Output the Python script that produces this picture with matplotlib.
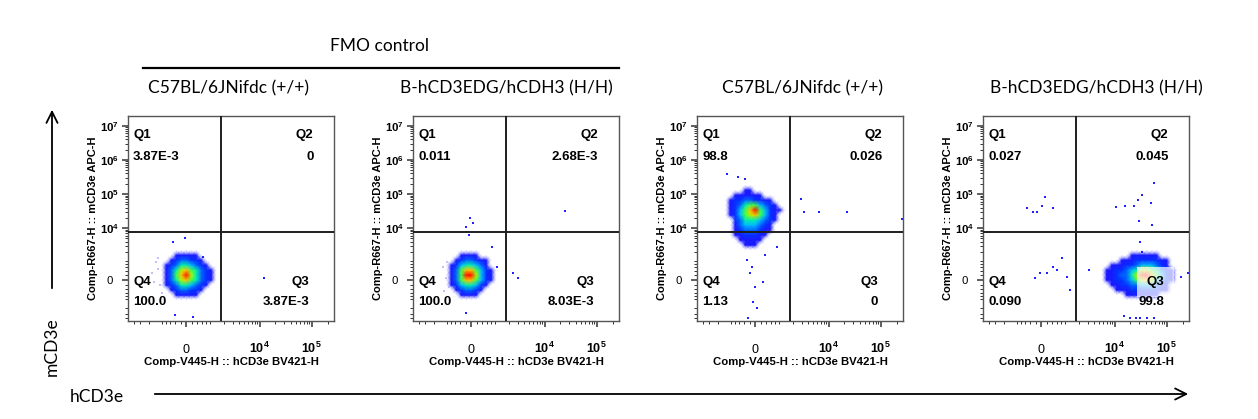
import numpy as np
import matplotlib.pyplot as plt
from matplotlib.ticker import NullFormatter
from matplotlib.colors import LinearSegmentedColormap

plt.rcParams["font.family"] = "Liberation Sans"
plt.rcParams["mathtext.fontset"] = "custom"
plt.rcParams["mathtext.rm"] = "Liberation Sans:bold"
plt.rcParams["mathtext.bf"] = "Liberation Sans:bold"
plt.rcParams["mathtext.it"] = "Liberation Sans:bold"
plt.rcParams["mathtext.default"] = "rm"

# -----------------------------
# Data
# -----------------------------
titles = ["C57BL/6JNifdc (+/+)", "B-hCD3EDG/hCDH3 (H/H)",
          "C57BL/6JNifdc (+/+)", "B-hCD3EDG/hCDH3 (H/H)"]

q1_vals = ["3.87E-3", "0.011", "98.8", "0.027"]
q2_vals = ["0", "2.68E-3", "0.026", "0.045"]
q3_vals = ["3.87E-3", "8.03E-3", "0", "99.8"]
q4_vals = ["100.0", "100.0", "1.13", "0.090"]

gate_x = 1785
gate_y = 7700

x_major = [0, 1e4, 1e5]
x_major_labels = ["0", "$10^{4}$", "$10^{5}$"]
y_major = [0, 1e4, 1e5, 1e6, 1e7]
y_major_labels = ["0", "$10^{4}$", "$10^{5}$", "$10^{6}$", "$10^{7}$"]

# density grids of the main populations (levels)
neg_grid_x = [-1071, -799, -566, -363, -177, 0, 177, 363, 566, 799, 1071, 1390]
neg_grid_y = [-1566, -1083, -718, -437, -207, 0, 207, 437, 718, 1083, 1566, 2238]

blob1 = [
    [0, 0, 0, 0, 0, 0, 0, 0, 0, 0, 0, 0],
    [0, 0, 0, 0, 0, 0, 0, 0, 0, 0, 0, 0],
    [0, 0, 0, 1, 1, 1, 1, 1, 0, 0, 0, 0],
    [0, 0, 1, 2, 3, 3, 2, 2, 1, 0, 0, 0],
    [0, 1, 2, 3, 5, 5, 4, 3, 2, 1, 0, 0],
    [0, 1, 3, 5, 7, 8, 6, 5, 3, 2, 1, 0],
    [0, 1, 3, 6, 8, 9, 7, 5, 3, 2, 1, 0],
    [0, 1, 3, 5, 7, 8, 6, 5, 3, 2, 1, 0],
    [0, 1, 2, 3, 5, 5, 4, 3, 2, 1, 0, 0],
    [0, 0, 1, 2, 3, 3, 2, 2, 1, 0, 0, 0],
    [0, 0, 0, 1, 1, 1, 1, 1, 0, 0, 0, 0],
    [0, 0, 0, 0, 0, 0, 0, 0, 0, 0, 0, 0],
]

blob2 = [
    [0, 0, 0, 0, 0, 0, 0, 0, 0, 0, 0, 0],
    [0, 0, 0, 0, 0, 0, 0, 0, 0, 0, 0, 0],
    [0, 0, 0, 1, 1, 1, 1, 0, 0, 0, 0, 0],
    [0, 0, 1, 2, 3, 3, 2, 1, 0, 0, 0, 0],
    [0, 1, 2, 4, 5, 5, 4, 2, 1, 0, 0, 0],
    [0, 1, 3, 6, 8, 8, 6, 4, 2, 1, 0, 0],
    [0, 1, 3, 6, 9, 9, 7, 4, 2, 1, 0, 0],
    [0, 1, 3, 6, 8, 8, 6, 4, 2, 1, 0, 0],
    [0, 1, 2, 4, 5, 5, 4, 3, 1, 0, 0, 0],
    [0, 0, 1, 2, 3, 3, 2, 1, 1, 0, 0, 0],
    [0, 0, 0, 1, 1, 1, 1, 0, 0, 0, 0, 0],
    [0, 0, 0, 0, 0, 0, 0, 0, 0, 0, 0, 0],
]

mcd3_grid_x = [-1390, -1071, -799, -566, -363, -177, 0, 177, 363, 566, 799, 1071, 1390]
mcd3_grid_y = [1566, 2238, 3162, 4458, 6264, 8784, 12318, 17280, 24240, 33960,
               47640, 66780, 93600, 131400, 184000, 258000]

blob3 = [
    [0, 0, 0, 0, 0, 0, 0, 0, 0, 0, 0, 0, 0],
    [0, 0, 0, 0, 0, 0, 0, 0, 0, 0, 0, 0, 0],
    [0, 0, 0, 0, 1, 1, 1, 0, 0, 0, 0, 0, 0],
    [0, 0, 0, 1, 1, 1, 1, 1, 0, 0, 0, 0, 0],
    [0, 0, 1, 1, 2, 2, 2, 1, 1, 0, 0, 0, 0],
    [0, 0, 1, 2, 3, 3, 3, 2, 1, 1, 0, 0, 0],
    [0, 0, 1, 3, 4, 4, 4, 3, 2, 1, 0, 0, 0],
    [0, 0, 2, 3, 5, 5, 5, 4, 3, 2, 1, 0, 0],
    [0, 1, 2, 4, 6, 7, 8, 6, 4, 2, 1, 0, 0],
    [0, 1, 2, 4, 6, 8, 9, 6, 4, 2, 1, 1, 0],
    [0, 1, 2, 3, 5, 6, 6, 4, 3, 2, 1, 0, 0],
    [0, 1, 2, 2, 3, 3, 2, 2, 1, 1, 0, 0, 0],
    [0, 0, 1, 1, 1, 1, 1, 1, 0, 0, 0, 0, 0],
    [0, 0, 0, 0, 1, 1, 0, 0, 0, 0, 0, 0, 0],
    [0, 0, 0, 0, 0, 0, 0, 0, 0, 0, 0, 0, 0],
    [0, 0, 0, 0, 0, 0, 0, 0, 0, 0, 0, 0, 0],
]

hcd3_grid_x = [4496, 5630, 7034, 8780, 10975, 13700, 17073, 21330, 26605,
               33230, 41480, 51780, 64550, 80570, 100550, 125500, 156540]
hcd3_grid_y = [-1083, -718, -437, -207, 0, 207, 437, 718, 1083, 1566, 2238]

blob4 = [
    [0, 0, 0, 0, 0, 0, 0, 0, 0, 0, 0, 0, 0, 0, 0, 0, 0],
    [0, 0, 0, 0, 0, 0, 1, 1, 1, 1, 1, 1, 1, 0, 0, 0, 0],
    [0, 0, 0, 0, 1, 1, 1, 2, 2, 2, 2, 2, 2, 1, 1, 0, 0],
    [0, 0, 0, 1, 1, 2, 2, 3, 3, 4, 4, 4, 3, 2, 1, 0, 0],
    [0, 0, 1, 1, 2, 2, 3, 4, 6, 7, 8, 7, 5, 3, 2, 1, 0],
    [0, 0, 1, 1, 2, 3, 3, 5, 7, 9, 9, 8, 6, 4, 2, 1, 0],
    [0, 0, 1, 1, 2, 2, 3, 4, 5, 7, 7, 6, 5, 3, 2, 1, 0],
    [0, 0, 0, 1, 1, 1, 2, 2, 3, 4, 4, 4, 3, 2, 1, 0, 0],
    [0, 0, 0, 0, 0, 1, 1, 1, 2, 2, 2, 2, 2, 1, 1, 0, 0],
    [0, 0, 0, 0, 0, 0, 0, 1, 1, 1, 1, 1, 1, 0, 0, 0, 0],
    [0, 0, 0, 0, 0, 0, 0, 0, 0, 0, 0, 0, 0, 0, 0, 0, 0],
]

# single scattered events
ev1_x = [-35, -480, 250, -400, 650, 1020, 12000]
ev1_y = [5110, 3900, -3630, -3160, 1400, 290, 80]
ev2_x = [-35, 70, -177, -70, 850, 24400, 2380, 3000, -177, 1127]
ev2_y = [19800, 14100, 10750, 6260, 2760, 31700, 290, 80, -2760, 600]
ev3_x = [-1250, -655, -363, 2855, 3280, 6430, 22300, 255000, 900, 363,
         -177, 0, 290, -70, 70, -250, -290, -105]
ev3_y = [386000, 316000, 275000, 71300, 29700, 29700, 29700, 18500, 2760, 1566,
         290, -290, -80, -1260, -1940, -3890, 1083, 600]
ev4_x = [-525, -290, -140, 35, 140, 441, 10500, 15600, 23300, 27800, 33230,
         56500, 49500, 29100, 51780, 850, 441, 212, -212, 610, 1127, 1310, -35,
         3125, 255000, 187000, 15000, 31000, 56500, 20000, 26000, 42000, 31000, 33000]
ev4_y = [38800, 29700, 29700, 44500, 81800, 38800, 41500, 44500, 44500, 66800, 93600,
         210000, 54400, 16200, 12300, 1260, 600, 290, 80, 437, 120, -437, 290,
         437, 290, 120, -3390, -3890, -3890, -3900, -3900, -3900, 3900, 1940]

# faint low-intensity haze left of the negative populations
haze1_x = [-1700, -1400, -1130, -1300, -1000, -1550, -1250]
haze1_y = [300, 900, -200, 1300, -600, -100, 500]
haze2_x = [-1300, -1100, -900, -1200, -1000]
haze2_y = [600, 100, -300, -500, 900]

blob_x = [neg_grid_x, neg_grid_x, mcd3_grid_x, hcd3_grid_x]
blob_y = [neg_grid_y, neg_grid_y, mcd3_grid_y, hcd3_grid_y]
blob_z = [blob1, blob2, blob3, blob4]
events_x = [ev1_x, ev2_x, ev3_x, ev4_x]
events_y = [ev1_y, ev2_y, ev3_y, ev4_y]
haze_x = [haze1_x, haze2_x, [], []]
haze_y = [haze1_y, haze2_y, [], []]

# -----------------------------
# Layout (pixels)
# -----------------------------
W, H = 1258, 419
panel_left = [128, 413, 697, 983]
panel_top = 116
panel_w = 206
panel_h = 205
title_cx = [228, 506, 803, 1096]

# pseudocolor map, transparent where there are no events
flow_cmap = LinearSegmentedColormap.from_list("flow", [
    (0.00, (1, 1, 1, 0)),
    (0.05, (0.35, 0.35, 1, 0.8)),
    (0.12, (0.05, 0.05, 1, 1)),
    (0.30, (0.0, 0.3, 1, 1)),
    (0.46, (0.0, 0.78, 1, 1)),
    (0.60, (0.0, 1.0, 0.55, 1)),
    (0.74, (0.55, 1.0, 0.0, 1)),
    (0.86, (1.0, 0.92, 0.0, 1)),
    (0.94, (1.0, 0.5, 0.0, 1)),
    (1.00, (1.0, 0.05, 0.0, 1)),
])

x_minor = ([-4000, -3000, -2000, -1000, -800, -600, -400, -200, 200, 400, 600, 800]
           + [k * 1000 for k in range(1, 10)] + [k * 10000 for k in range(2, 10)] + [2e5])
y_minor = ([-4000, -3000, -2000, -1000, -800, -600, -400, -200, 200, 400, 600, 800]
           + [k * 1000 for k in range(1, 10)] + [k * 10000 for k in range(2, 10)]
           + [k * 1e5 for k in range(2, 10)] + [k * 1e6 for k in range(2, 10)])

fig = plt.figure(figsize=(W / 100, H / 100), dpi=100)

for i in range(4):
    ax = fig.add_axes([panel_left[i] / W, 1 - (panel_top + panel_h) / H,
                       panel_w / W, panel_h / H])
    ax.set_xscale("asinh", linear_width=793)
    ax.set_yscale("asinh", linear_width=600)

    if haze_x[i]:
        ax.scatter(haze_x[i], haze_y[i], s=2.5, marker="s", c="#c0c0ff",
                   linewidths=0, zorder=1)
    ax.pcolormesh(blob_x[i], blob_y[i], blob_z[i], shading="gouraud",
                  cmap=flow_cmap, vmin=0, vmax=9, zorder=1.5)
    ax.scatter(events_x[i], events_y[i], s=1.8, marker="s", c="#2020ff",
               linewidths=0, zorder=2)

    ax.axvline(gate_x, color="#1e1e1e", lw=1.4, zorder=3)
    ax.axhline(gate_y, color="#1e1e1e", lw=1.4, zorder=3)

    ax.set_xlim(-5150, 266000)
    ax.set_ylim(-4770, 1.94e7)

    ax.set_xticks(x_major)
    ax.set_xticklabels(x_major_labels)
    ax.set_xticks(x_minor, minor=True)
    ax.set_yticks(y_major)
    ax.set_yticklabels(y_major_labels)
    ax.set_yticks(y_minor, minor=True)
    ax.xaxis.set_minor_formatter(NullFormatter())
    ax.yaxis.set_minor_formatter(NullFormatter())

    ax.tick_params(which="major", direction="out", length=4, width=1.1,
                   color="#333333")
    ax.tick_params(which="minor", direction="out", length=2.5, width=0.7,
                   color="#333333")
    ax.tick_params(axis="x", which="major", pad=19, labelsize=9)
    ax.tick_params(axis="y", which="major", pad=9.4, labelsize=8.2)
    for lbl in ax.get_xticklabels():
        lbl.set_va("baseline")
    for lbl in ax.get_yticklabels():
        lbl.set_ha("center")

    for sp in ax.spines.values():
        sp.set_color("#555555")
        sp.set_linewidth(1.0)

    ax.set_xlabel("Comp-V445-H :: hCD3e BV421-H", fontsize=8.2, weight="bold")
    ax.set_ylabel("Comp-R667-H :: mCD3e APC-H", fontsize=8, weight="bold")
    ax.xaxis.set_label_coords(0.5, -0.175)
    ax.yaxis.set_label_coords(-0.148, 0.5)

    qstyle = dict(transform=ax.transAxes, fontsize=9.5, weight="bold",
                  va="center", zorder=4)
    ax.text(0.025, 0.907, "Q1", ha="left", **qstyle)
    ax.text(0.025, 0.80, q1_vals[i], ha="left", **qstyle)
    ax.text(0.90, 0.907, "Q2", ha="right", **qstyle)
    ax.text(0.90, 0.80, q2_vals[i], ha="right", **qstyle)
    ax.text(0.025, 0.19, "Q4", ha="left", **qstyle)
    ax.text(0.025, 0.093, q4_vals[i], ha="left", **qstyle)
    ax.text(0.88, 0.19, "Q3", ha="right",
            bbox=dict(boxstyle="square,pad=0.7", fc="white", ec="none", alpha=0.72),
            **qstyle)
    ax.text(0.88, 0.093, q3_vals[i], ha="right", **qstyle)

# -----------------------------
# Overlay: titles, arrows, group line
# -----------------------------
ov = fig.add_axes([0, 0, 1, 1])
ov.set_xlim(0, W)
ov.set_ylim(H, 0)
ov.axis("off")

for i in range(4):
    ov.text(title_cx[i], 88, titles[i], ha="center", va="center",
            fontsize=12.5, family="Lato")

ov.text(379, 46, "FMO control", ha="center", va="center", fontsize=12.5, family="Lato")
ov.plot([143, 619], [68, 68], color="black", lw=1.6)

ov.annotate("", xy=(52, 107), xytext=(52, 291),
            arrowprops=dict(arrowstyle="->", lw=1.3, mutation_scale=20, color="black"))
ov.annotate("", xy=(1191, 394), xytext=(152, 394),
            arrowprops=dict(arrowstyle="->", lw=1.3, mutation_scale=20, color="black"))
ov.text(52, 347, "mCD3e", rotation=90, ha="center", va="center",
        fontsize=12.5, family="Lato")
ov.text(97, 397, "hCD3e", ha="center", va="center", fontsize=12.5, family="Lato")

fig.savefig("out.png", dpi=100)
